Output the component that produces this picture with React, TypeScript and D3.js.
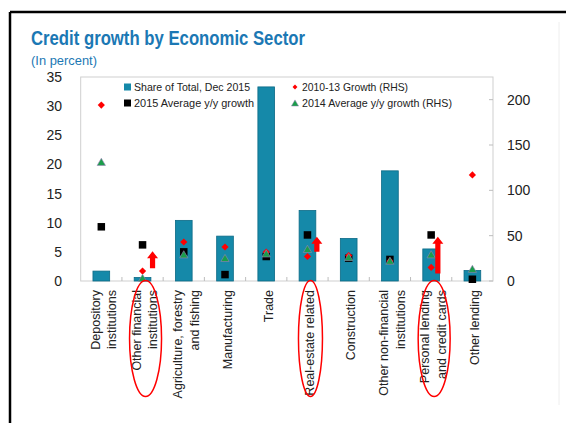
import React from "react";
import * as d3 from "d3";

const categories = [
  "Depository institutions",
  "Other financial institutions",
  "Agriculture, forestry and fishing",
  "Manufacturing",
  "Trade",
  "Real-estate related",
  "Construction",
  "Other non-financial institutions",
  "Personal lending and credit cards",
  "Other lending",
];
const labelLines = [
  ["Depository", "institutions"],
  ["Other financial", "institutions"],
  ["Agriculture, forestry", "and fishing"],
  ["Manufacturing"],
  ["Trade"],
  ["Real-estate related"],
  ["Construction"],
  ["Other non-financial", "institutions"],
  ["Personal lending", "and credit cards"],
  ["Other lending"],
];
// LHS
const shareTotal = [1.7, 0.6, 10.4, 7.7, 33.3, 12.1, 7.3, 18.9, 5.5, 1.8];
const growth2015 = [9.3, 6.2, 5.0, 1.1, 4.2, 7.9, 3.9, 3.7, 7.9, 0.3];
// RHS
const growth1013 = [194, 11, 43, 37.5, 32, 27, 28, 22, 15, 117];
const growth2014 = [131, 3, 29, 25, 30, 35, 26, 22, 29, 13];
const leftTicks = [0, 5, 10, 15, 20, 25, 30, 35];
const rightTicks = [0, 50, 100, 150, 200];
const highlighted = ["Other financial institutions", "Real-estate related", "Personal lending and credit cards"];
// arrows (LHS units): [category, from, to]
const arrows: [string, number, number][] = [
  ["Other financial institutions", 2.2, 5.1],
  ["Real-estate related", 5.0, 7.6],
  ["Personal lending and credit cards", 1.3, 7.6],
];

const FONT = "'Liberation Sans', Arial, sans-serif";
const TEAL = "#1589a9";
const BLUE = "#1b78b4";

export default function App() {
  const W = 566, H = 423;
  const L = 80.7, R = 493, T = 77, B = 281;
  const x = d3.scaleBand<string>().domain(categories).range([L, R]).padding(0);
  const yL = d3.scaleLinear().domain([0, 35]).range([B, T]);
  const yR = d3.scaleLinear().domain([0, 225]).range([B, T]);
  const bw = x.bandwidth();
  const cx = (c: string) => (x(c) as number) + bw / 2;
  const barW = bw * 0.405;
  const sq = 7.5;
  const dia = d3.symbol().type(d3.symbolSquare).size(26);
  const tri = d3.symbol().type(d3.symbolTriangle).size(30);

  const arrowPath = (xc: number, y0: number, y1: number) => {
    const sw = 2.6, hw = 5.5, hl = 7;
    return `M${xc - sw},${y0} L${xc - sw},${y1 + hl} L${xc - hw},${y1 + hl} L${xc},${y1} L${xc + hw},${y1 + hl} L${xc + sw},${y1 + hl} L${xc + sw},${y0} Z`;
  };
  const arrowOffset = [10, 9.4, 6.7];

  return (
    <svg width={W} height={H} style={{ position: "absolute", left: 0, top: 0 }} fontFamily={FONT}>
      <rect x={0} y={0} width={W} height={H} fill="#fff" />
      {/* frame */}
      <line x1={10} y1={12} x2={W} y2={12} stroke="#000" strokeWidth={2.5} />
      <line x1={10} y1={12} x2={10} y2={H} stroke="#000" strokeWidth={2.5} />
      <line x1={559} y1={22} x2={559} y2={405} stroke="#eee" strokeWidth={1} />

      <text x={31} y={45} fontSize={20.5} fontWeight="bold" fill={BLUE} textLength={274} lengthAdjust="spacingAndGlyphs">
        Credit growth by Economic Sector
      </text>
      <text x={31} y={65} fontSize={13.5} fill={BLUE} textLength={66} lengthAdjust="spacingAndGlyphs">(In percent)</text>

      {/* plot frame */}
      <rect x={L} y={T} width={R - L} height={B - T} fill="none" stroke="#cfcfcf" strokeWidth={1} />

      {/* bars */}
      {categories.map((c, i) => (
        <rect key={c} x={cx(c) - barW / 2} y={yL(shareTotal[i])} width={barW} height={B - yL(shareTotal[i])}
          fill={TEAL} stroke="#0c6a86" strokeWidth={0.8} />
      ))}

      {/* x ticks */}
      {categories.slice(1).map((c) => (
        <line key={c} x1={x(c)} x2={x(c)} y1={B} y2={B - 4} stroke="#bdbdbd" />
      ))}
      {/* right ticks */}
      {rightTicks.map((t) => (
        <line key={t} x1={R} x2={R - 4} y1={yR(t)} y2={yR(t)} stroke="#bdbdbd" />
      ))}

      {/* markers */}
      {categories.map((c, i) => (
        <rect key={c} x={cx(c) - sq / 2} y={yL(growth2015[i]) - sq / 2} width={sq} height={sq} fill="#000" />
      ))}
      {categories.map((c, i) => (
        <path key={c} d={dia() as string} transform={`translate(${cx(c)},${yR(growth1013[i])}) rotate(45)`} fill="#ff0000" />
      ))}
      {categories.map((c, i) => (
        <path key={c} d={tri() as string} transform={`translate(${cx(c)},${yR(growth2014[i]) + 0.8})`} fill="#1a9e4a" stroke="#9a80b8" strokeWidth={0.6} />
      ))}

      {/* arrows */}
      {arrows.map(([c, a, b], i) => (
        <path key={c} d={arrowPath(cx(c) + arrowOffset[i], yL(a), yL(b))} fill="#ff0000" />
      ))}

      {/* axis labels */}
      {leftTicks.map((t) => (
        <text key={t} x={62} y={yL(t) + 5} fontSize={14} textAnchor="end" fill="#222">{t}</text>
      ))}
      {rightTicks.map((t) => (
        <text key={t} x={507} y={yR(t) + 5} fontSize={14} fill="#222">{t}</text>
      ))}

      {/* category labels */}
      {categories.map((c, i) => {
        const lines = labelLines[i];
        const n = lines.length;
        const xc = cx(c) + 2;
        return (
          <text key={c} transform={`translate(${xc},290) rotate(-90)`} fontSize={12.5} textAnchor="end" fill="#222">
            {lines.map((ln, j) => (
              <tspan key={j} x={0} y={(j - (n - 1) / 2) * 16.5 + 4.5}>{ln}</tspan>
            ))}
          </text>
        );
      })}

      {/* highlight ellipses */}
      {highlighted.map((c) => {
        const n = labelLines[categories.indexOf(c)].length;
        return (
          <ellipse key={c} cx={cx(c) + 3} cy={338.5} rx={n > 1 ? 16 : 12} ry={58} fill="none" stroke="#ff0000" strokeWidth={1.5} />
        );
      })}

      {/* legend */}
      <g fontSize={11.5} fill="#222">
        <rect x={124} y={83.5} width={7} height={7} fill={TEAL} />
        <text x={134} y={91} textLength={116} lengthAdjust="spacingAndGlyphs">Share of Total, Dec 2015</text>
        <rect x={124} y={99.5} width={7} height={7} fill="#000" />
        <text x={134} y={107} textLength={120} lengthAdjust="spacingAndGlyphs">2015 Average y/y growth</text>
        <path d={d3.symbol().type(d3.symbolSquare).size(12)() as string} transform="translate(295,87) rotate(45)" fill="#ff0000" />
        <text x={302} y={91} textLength={106} lengthAdjust="spacingAndGlyphs">2010-13 Growth (RHS)</text>
        <path d={d3.symbol().type(d3.symbolTriangle).size(22)() as string} transform="translate(295,104)" fill="#1a9e4a" stroke="#9a80b8" strokeWidth={0.5} />
        <text x={302} y={107} textLength={150} lengthAdjust="spacingAndGlyphs">2014 Average y/y growth (RHS)</text>
      </g>
    </svg>
  );
}
